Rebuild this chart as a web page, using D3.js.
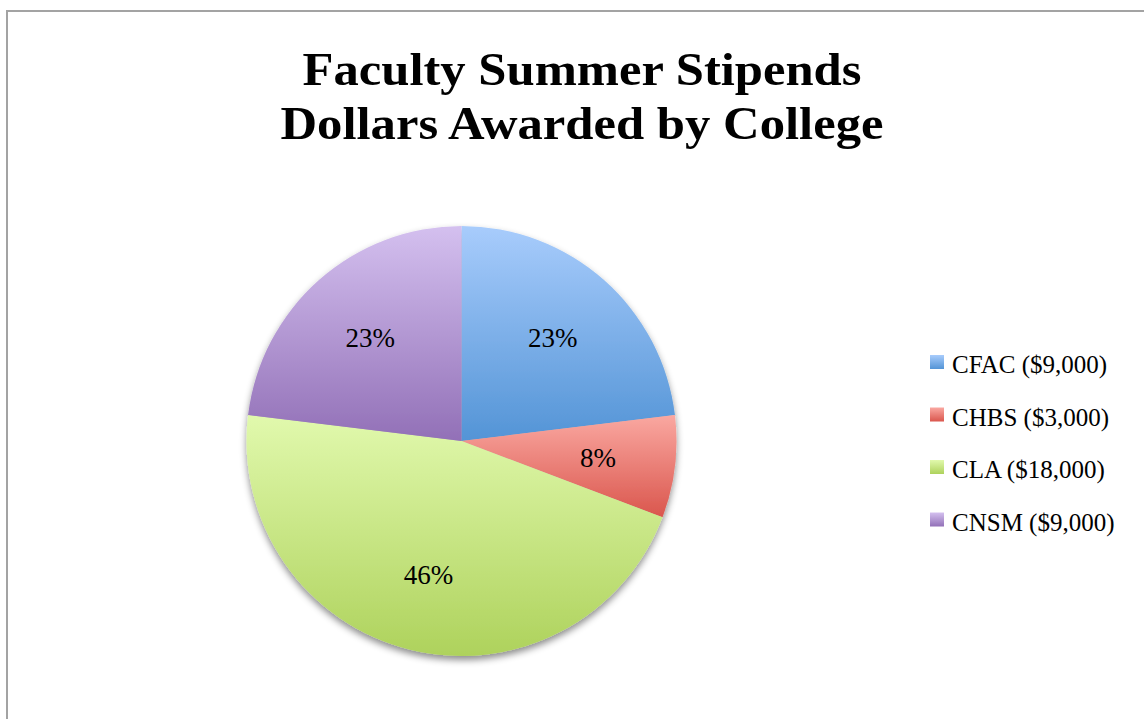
<!DOCTYPE html>
<html>
<head>
<meta charset="utf-8">
<script src="https://cdn.jsdelivr.net/npm/d3@7"></script>
<style>
  html, body { margin: 0; padding: 0; background: #fff; }
  svg { display: block; }
  text { font-family: "Liberation Serif", "DejaVu Serif", serif; fill: #000; }
</style>
</head>
<body>
<svg id="chart"></svg>
<script>
const width = 1144;
const height = 719;

const colleges = ['CFAC', 'CHBS', 'CLA', 'CNSM'];
const dollars = [9000, 3000, 18000, 9000];
const topColors = ['#a8ccfc', '#faa8a1', '#e1f9ad', '#d4c0ef'];
const bottomColors = ['#5394d6', '#da564d', '#aed25c', '#9270b7'];
const titleLines = ['Faculty Summer Stipends', 'Dollars Awarded by College'];

const cx = 461.5;
const cy = 441;
const radius = 215;

const svg = d3.select('#chart')
    .attr('width', width)
    .attr('height', height);

const defs = svg.append('defs');

colleges.forEach((c, i) => {
    const g = defs.append('linearGradient')
        .attr('id', `grad-${c}`)
        .attr('x1', 0).attr('y1', 0)
        .attr('x2', 0).attr('y2', 1);
    g.append('stop').attr('offset', '0%').attr('stop-color', topColors[i]);
    g.append('stop').attr('offset', '100%').attr('stop-color', bottomColors[i]);
});

const shadow = defs.append('filter')
    .attr('id', 'shadow')
    .attr('x', '-10%').attr('y', '-10%')
    .attr('width', '120%').attr('height', '125%');
shadow.append('feDropShadow')
    .attr('dx', 0).attr('dy', 4)
    .attr('stdDeviation', 3.5)
    .attr('flood-color', '#000')
    .attr('flood-opacity', 0.45);

// frame (cut off at right and bottom)
svg.append('rect')
    .attr('x', 7).attr('y', 11)
    .attr('width', width + 20).attr('height', height + 20)
    .attr('fill', 'none')
    .attr('stroke', '#a3a3a3')
    .attr('stroke-width', 2);

// title
const title = svg.append('g');
titleLines.forEach((t, i) => {
    title.append('text')
        .attr('x', 582)
        .attr('y', 85 + i * 54)
        .attr('text-anchor', 'middle')
        .attr('font-size', 47)
        .attr('font-weight', 'bold')
        .attr('textLength', i === 0 ? 559 : 603)
        .attr('lengthAdjust', 'spacingAndGlyphs')
        .text(t);
});

const total = d3.sum(dollars);
const data = colleges.map((c, i) => ({ name: c, value: dollars[i] }));

const pie = d3.pie().sort(null).value(d => d.value);
const arc = d3.arc().innerRadius(0).outerRadius(radius);
const labelArc = d3.arc().innerRadius(radius * 0.64).outerRadius(radius * 0.64);

const pieG = svg.append('g').attr('transform', `translate(${cx}, ${cy})`);

const slices = pieG.append('g').attr('filter', 'url(#shadow)');
slices.selectAll('path')
    .data(pie(data))
    .enter().append('path')
    .attr('d', arc)
    .attr('fill', d => `url(#grad-${d.data.name})`);

pieG.selectAll('text.pct')
    .data(pie(data))
    .enter().append('text')
    .attr('class', 'pct')
    .attr('transform', d => `translate(${labelArc.centroid(d)})`)
    .attr('text-anchor', 'middle')
    .attr('dy', '0.35em')
    .attr('font-size', 27)
    .text(d => Math.round(d.data.value / total * 100) + '%');

// legend
const fmt = d3.format('$,');
const legend = svg.append('g').attr('transform', 'translate(930, 355)');
const items = legend.selectAll('g')
    .data(data)
    .enter().append('g')
    .attr('transform', (d, i) => `translate(0, ${i * 52.5})`);

items.append('rect')
    .attr('width', 14).attr('height', 14)
    .attr('fill', d => `url(#grad-${d.name})`);

items.append('text')
    .attr('x', 22)
    .attr('y', 18)
    .attr('font-size', 25)
    .text(d => `${d.name} (${fmt(d.value)})`);
</script>
</body>
</html>
